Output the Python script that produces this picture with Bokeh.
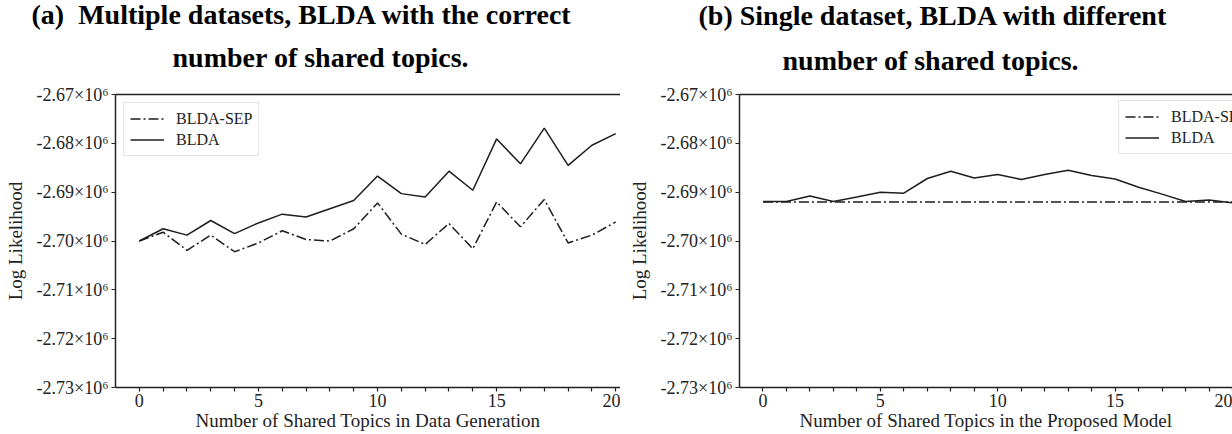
from bokeh.plotting import figure
from bokeh.models import LinearAxis, FixedTicker, Range1d, Title, Legend, LegendItem
from bokeh.layouts import row
from bokeh.embed import file_html
from bokeh.resources import INLINE

SERIF = "Liberation Serif"
INK = "#222222"

# ---------------- data ----------------
x_a = [0, 1, 2, 3, 4, 5, 6, 7, 8, 9, 10, 11, 12, 13, 14, 15, 16, 17, 18, 19, 20]
sep_a = [-2700000, -2698200, -2701900, -2698800, -2702200, -2700400, -2697900,
         -2699700, -2700000, -2697500, -2692200, -2698600, -2700700, -2696400,
         -2701600, -2692000, -2697100, -2691500, -2700400, -2698800, -2696100]
blda_a = [-2700000, -2697500, -2698800, -2695800, -2698500, -2696300, -2694500,
          -2695100, -2693400, -2691700, -2686700, -2690300, -2691000, -2685700,
          -2689600, -2679100, -2684200, -2676900, -2684500, -2680400, -2678000]

x_b = [0, 1, 2, 3, 4, 5, 6, 7, 8, 9, 10, 11, 12, 13, 14, 15, 16, 17, 18, 19, 20]
sep_b = [-2692000, -2692000, -2692000, -2692000, -2692000, -2692000, -2692000,
         -2692000, -2692000, -2692000, -2692000, -2692000, -2692000, -2692000,
         -2692000, -2692000, -2692000, -2692000, -2692000, -2692000, -2692000]
blda_b = [-2691900, -2691900, -2690800, -2691900, -2691000, -2690000, -2690200,
          -2687200, -2685700, -2687100, -2686400, -2687400, -2686400, -2685500,
          -2686600, -2687300, -2689000, -2690400, -2691900, -2691600, -2692200]

y_ticks = [-2730000, -2720000, -2710000, -2700000, -2690000, -2680000, -2670000]
y_tick_labels = ["-2.73×10⁶", "-2.72×10⁶", "-2.71×10⁶", "-2.70×10⁶",
                 "-2.69×10⁶", "-2.68×10⁶", "-2.67×10⁶"]
x_major = [0, 5, 10, 15, 20]
x_minor = [1, 2, 3, 4, 6, 7, 8, 9, 11, 12, 13, 14, 16, 17, 18, 19]
legend_labels = ["BLDA-SEP", "BLDA"]

titles_a = ["(a)\u2002Multiple datasets, BLDA with the correct", "number of shared topics."]
titles_b = ["(b) Single dataset, BLDA with different", "number of shared topics."]
xlabel_a = "Number of Shared Topics in Data Generation"
xlabel_b = "Number of Shared Topics in the Proposed Model"
ylabel = "Log Likelihood"


def panel(width, min_left, x_end, xlabel, xs, sep, blda, titles, offs, st1, st2,
          legend_loc):
    p = figure(width=width, height=434, x_range=Range1d(-1, x_end),
               y_range=Range1d(-2730000, -2670000), output_backend="svg",
               toolbar_location=None, title=None,
               min_border_left=min_left, min_border_right=0,
               min_border_top=94, min_border_bottom=47)
    p.outline_line_color = None
    p.xgrid.visible = False
    p.ygrid.visible = False
    p.background_fill_color = "white"
    p.border_fill_color = "white"

    xa = p.xaxis[0]
    xa.ticker = FixedTicker(ticks=x_major, minor_ticks=x_minor)
    ya = p.yaxis[0]
    ya.ticker = FixedTicker(ticks=y_ticks)
    ya.major_label_overrides = dict(zip(y_ticks, y_tick_labels))
    for ax in (xa, ya):
        ax.axis_line_color = INK
        ax.axis_line_width = 1.5
        ax.major_tick_line_color = INK
        ax.minor_tick_line_color = INK
        ax.major_tick_line_width = 1.2
        ax.minor_tick_line_width = 1.2
        ax.major_tick_in = 0
        ax.major_tick_out = 4
        ax.minor_tick_in = 0
        ax.major_label_text_font = SERIF
        ax.major_label_text_font_size = "18px"
        ax.major_label_text_color = INK
        ax.axis_label_text_font = SERIF
        ax.axis_label_text_font_size = "19px"
        ax.axis_label_text_font_style = "normal"
        ax.axis_label_text_color = INK
    xa.minor_tick_out = 4
    ya.minor_tick_out = 0
    xa.major_label_standoff = 2
    ya.major_label_standoff = 3
    xa.axis_label = xlabel
    xa.axis_label_standoff = 0
    ya.axis_label = ylabel
    ya.axis_label_standoff = 8

    top = LinearAxis(ticker=FixedTicker(ticks=[]), major_tick_out=0, major_tick_in=0,
                     minor_tick_out=0, minor_tick_in=0, axis_line_color=INK,
                     axis_line_width=1.5, major_label_text_font_size="0px")
    p.add_layout(top, "above")
    p.add_layout(Title(text=titles[1], align="left", offset=offs[1], standoff=st2,
                       text_font=SERIF, text_font_style="bold", text_font_size="28px",
                       text_color="black"), "above")
    p.add_layout(Title(text=titles[0], align="left", offset=offs[0], standoff=st1,
                       text_font=SERIF, text_font_style="bold", text_font_size="28px",
                       text_color="black"), "above")

    r1 = p.line(xs, sep, line_color="#1e1e1e", line_width=1.5, line_dash="10 3 2 3")
    r2 = p.line(xs, blda, line_color="#1e1e1e", line_width=1.5)
    leg = Legend(items=[LegendItem(label=legend_labels[0], renderers=[r1]),
                        LegendItem(label=legend_labels[1], renderers=[r2])],
                 location=legend_loc, margin=8, padding=6, spacing=2,
                 glyph_width=34, glyph_height=19, label_height=19, label_standoff=12,
                 label_text_font=SERIF, label_text_font_size="16px",
                 label_text_color=INK, border_line_color="#cccccc",
                 border_line_width=1, background_fill_alpha=0.85)
    p.add_layout(leg)
    return p


pa = panel(620, 115, 20.2, xlabel_a, x_a, sep_a, blda_a, titles_a, (-84, 57), -23, 43,
           "top_left")
pb = panel(612, 119, 20, xlabel_b, x_b, sep_b, blda_b, titles_b, (-41, 43), -15, 38,
           (379, 233))

layout = row(pa, pb)
open("out.html", "w").write(file_html(layout, INLINE))
